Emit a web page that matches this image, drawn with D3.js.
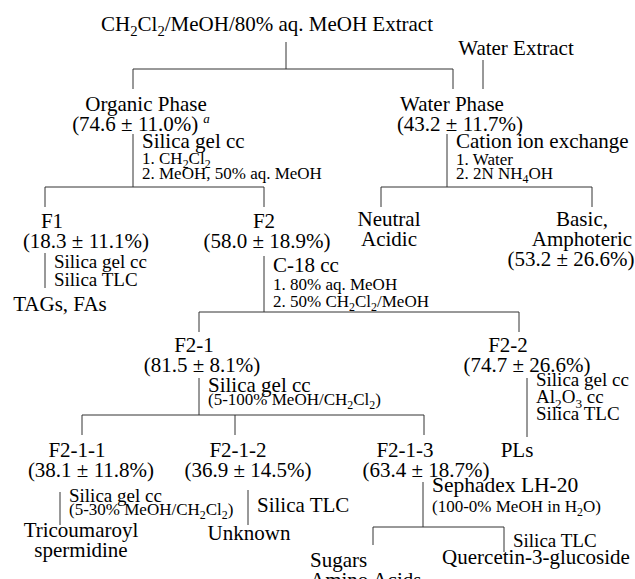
<!DOCTYPE html>
<meta charset="utf-8">

<head>
    <script src="https://d3js.org/d3.v7.min.js"></script>
</head>
<style>
    body {
        margin: 0;
        background: #fff;
    }

    svg text {
        font-family: "Liberation Serif", "Times New Roman", serif;
        fill: #000;
    }

    .link {
        stroke: #333;
        stroke-width: 1;
        fill: none;
    }
</style>

<body>
    <script>
        'use strict';

        // fractions with a yield (% of parent fraction, mean ± sd)
        const fractionIds = ["organic", "water", "F1", "F2", "basic", "F2-1", "F2-2", "F2-1-1", "F2-1-2", "F2-1-3"];
        const yieldMean = [74.6, 43.2, 18.3, 58.0, 53.2, 81.5, 74.7, 38.1, 36.9, 63.4];
        const yieldSd = [11.0, 11.7, 11.1, 18.9, 26.6, 8.1, 26.6, 11.8, 14.5, 18.7];

        // every label of the scheme; "|" breaks a line, {n} is a subscript
        const nodeIds = ["extract", "waterExtract", "organic", "water", "F1", "F2", "neutral", "basic",
            "F2-1", "F2-2", "F2-1-1", "F2-1-2", "F2-1-3", "tags", "pls", "trico", "unknown", "sugars", "quercetin"];
        const nodeNames = ["CH{2}Cl{2}/MeOH/80% aq. MeOH Extract", "Water Extract", "Organic Phase", "Water Phase",
            "F1", "F2", "Neutral|Acidic", "Basic,|Amphoteric", "F2-1", "F2-2", "F2-1-1", "F2-1-2", "F2-1-3",
            "TAGs, FAs", "PLs", "Tricoumaroyl|spermidine", "Unknown", "Sugars|Amino Acids", "Quercetin-3-glucoside"];

        // separation steps: parent -> children, with the method used ("~" = small print)
        const stepParent = ["extract", "waterExtract", "organic", "water", "F1", "F2", "F2-1", "F2-2", "F2-1-1", "F2-1-2", "F2-1-3"];
        const stepKids = [["organic", "water"], ["water"], ["F1", "F2"], ["neutral", "basic"], ["tags"],
            ["F2-1", "F2-2"], ["F2-1-1", "F2-1-2", "F2-1-3"], ["pls"], ["trico"], ["unknown"], ["sugars", "quercetin"]];
        const stepMethod = [[], [],
            ["Silica gel cc", "~1. CH{2}Cl{2}", "~2. MeOH, 50% aq. MeOH"],
            ["Cation ion exchange", "~1. Water", "~2. 2N NH{4}OH"],
            ["Silica gel cc", "Silica TLC"],
            ["C-18 cc", "~1. 80% aq. MeOH", "~2. 50% CH{2}Cl{2}/MeOH"],
            ["Silica gel cc", "~(5-100% MeOH/CH{2}Cl{2})"],
            ["Silica gel cc", "Al{2}O{3} cc", "Silica TLC"],
            ["Silica gel cc", "~(5-30% MeOH/CH{2}Cl{2})"],
            ["Silica TLC"],
            ["Sephadex LH-20", "~(100-0% MeOH in H{2}O)"]];
        const edgeNotes = [["quercetin", "Silica TLC"]];

        // layout of the scheme (diagram units = px of the 635 x 579 page)
        const layout = {
            extract: { nx: 267, y: 31, outX: 286, outY: 42 },
            waterExtract: { nx: 516, y: 55, outX: 483, outY: 60 },
            organic: { nx: 146, vx: 141, y: 111, inX: 133, top: 89, outX: 133, outY: 134, sup: "a" },
            water: { nx: 452, vx: 460, y: 111, inX: 453, top: 89, outX: 447, outY: 134 },
            F1: { nx: 52, vx: 86, y: 228, inX: 45, top: 207, outX: 45, outY: 253 },
            F2: { nx: 264, vx: 267, y: 228, inX: 264, top: 207, outX: 264, outY: 256 },
            neutral: { nx: 389, y: 226, inX: 381, top: 207 },
            basic: { nx: 582, vx: 571, y: 226, inX: 592, top: 207 },
            "F2-1": { nx: 194, vx: 202, y: 352, inX: 199, top: 332, outX: 199, outY: 378 },
            "F2-2": { nx: 508, vx: 527, y: 352, inX: 519, top: 332, outX: 527, outY: 378 },
            "F2-1-1": { nx: 77, vx: 91, y: 457, inX: 82, top: 435, outX: 60, outY: 492 },
            "F2-1-2": { nx: 238, vx: 248, y: 457, inX: 235, top: 435, outX: 248, outY: 490 },
            "F2-1-3": { nx: 405, vx: 426, y: 457, inX: 424, top: 435, outX: 423, outY: 482 },
            tags: { nx: 60, y: 311, top: 288 },
            pls: { nx: 517, y: 457, top: 437 },
            trico: { nx: 81, y: 537, top: 525 },
            unknown: { nx: 249, y: 540, top: 525 },
            sugars: { nx: 310, anchor: "start", y: 567, inX: 373, top: 545 },
            quercetin: { nx: 536, y: 564, inX: 504, top: 552, noteY: 547, noteSize: 19 }
        };
        const stepBar = [69, null, 187, 187, null, 312, 415, null, null, null, 527];
        const stepNoteY = [[], [], [148, 163.5, 178.5], [148, 165, 179], [268, 285.5], [272, 290, 306.5],
            [391.5, 405], [386, 403, 420], [502, 515], [512], [492, 512]];
        const stepNoteSize = [0, 0, 21, 21, 19, 21, 21, 19, 19, 21, 21.5];

        const W = 635, H = 579,
            BIG = 21, SMALL = 17, LINE = 20, NOTE_GAP = 9;

        const x = d3.scaleLinear().domain([0, 635]).range([0, W]);
        const y = d3.scaleLinear().domain([0, 579]).range([0, H]);

        const svg = d3.select("body").append("svg")
            .attr("width", W)
            .attr("height", H);

        const nodes = nodeIds.map((id, i) => {
            const k = fractionIds.indexOf(id);
            return Object.assign({
                id: id,
                name: nodeNames[i],
                value: k < 0 ? null : "(" + yieldMean[k].toFixed(1) + " ± " + yieldSd[k].toFixed(1) + "%)"
            }, layout[id]);
        });
        const byId = new Map(nodes.map((d) => [d.id, d]));

        // writes a string into a <text>, turning {..} into subscripts
        function rich(t, str, size) {
            const shift = size * 0.25;
            let down = false;
            str.split(/(\{[^}]*\})/).filter((s) => s.length).forEach((part) => {
                const sub = part[0] === "{";
                const ts = t.append("tspan").text(sub ? part.slice(1, -1) : part);
                if (sub) {
                    ts.attr("font-size", size * 0.7).attr("dy", shift);
                    down = true;
                } else if (down) {
                    ts.attr("dy", -shift);
                    down = false;
                }
            });
        }

        // connectors
        const segs = [];
        stepParent.forEach((pid, i) => {
            const p = byId.get(pid),
                kids = stepKids[i].map((k) => byId.get(k)),
                bar = stepBar[i];
            if (bar == null) {
                segs.push([p.outX, p.outY, p.outX, kids[0].top]);
                return;
            }
            segs.push([p.outX, p.outY, p.outX, bar]);
            const xs = kids.map((k) => k.inX);
            segs.push([d3.min(xs), bar, d3.max(xs), bar]);
            kids.forEach((k) => segs.push([k.inX, bar, k.inX, k.top]));
        });

        svg.append("g").selectAll("line")
            .data(segs)
            .enter().append("line")
            .attr("class", "link")
            .attr("x1", (d) => x(d[0]))
            .attr("y1", (d) => y(d[1]))
            .attr("x2", (d) => x(d[2]))
            .attr("y2", (d) => y(d[3]));

        // labels
        const gLab = svg.append("g");
        nodes.forEach((d) => {
            const lines = d.name.split("|");
            if (d.value) lines.push(d.value);
            lines.forEach((ln, j) => {
                const isVal = d.value && j === lines.length - 1;
                const t = gLab.append("text")
                    .attr("x", x(isVal ? d.vx : d.nx))
                    .attr("y", y(d.y + j * LINE))
                    .attr("text-anchor", d.anchor || "middle")
                    .attr("font-size", BIG);
                rich(t, ln, BIG);
                if (isVal && d.sup) {
                    t.append("tspan")
                        .attr("font-size", 13)
                        .attr("font-style", "italic")
                        .attr("dx", 5)
                        .attr("dy", -8)
                        .text(d.sup);
                }
            });
        });

        // methods written beside the stems
        const gNote = svg.append("g");
        stepParent.forEach((pid, i) => {
            const p = byId.get(pid);
            stepMethod[i].forEach((m, j) => {
                const small = m[0] === "~",
                    size = small ? SMALL : stepNoteSize[i];
                const t = gNote.append("text")
                    .attr("x", x(p.outX + NOTE_GAP))
                    .attr("y", y(stepNoteY[i][j]))
                    .attr("font-size", size);
                rich(t, small ? m.slice(1) : m, size);
            });
        });
        edgeNotes.forEach((e) => {
            const k = byId.get(e[0]);
            const t = gNote.append("text")
                .attr("x", x(k.inX + NOTE_GAP))
                .attr("y", y(k.noteY))
                .attr("font-size", k.noteSize);
            rich(t, e[1], k.noteSize);
        });
    </script>
</body>
